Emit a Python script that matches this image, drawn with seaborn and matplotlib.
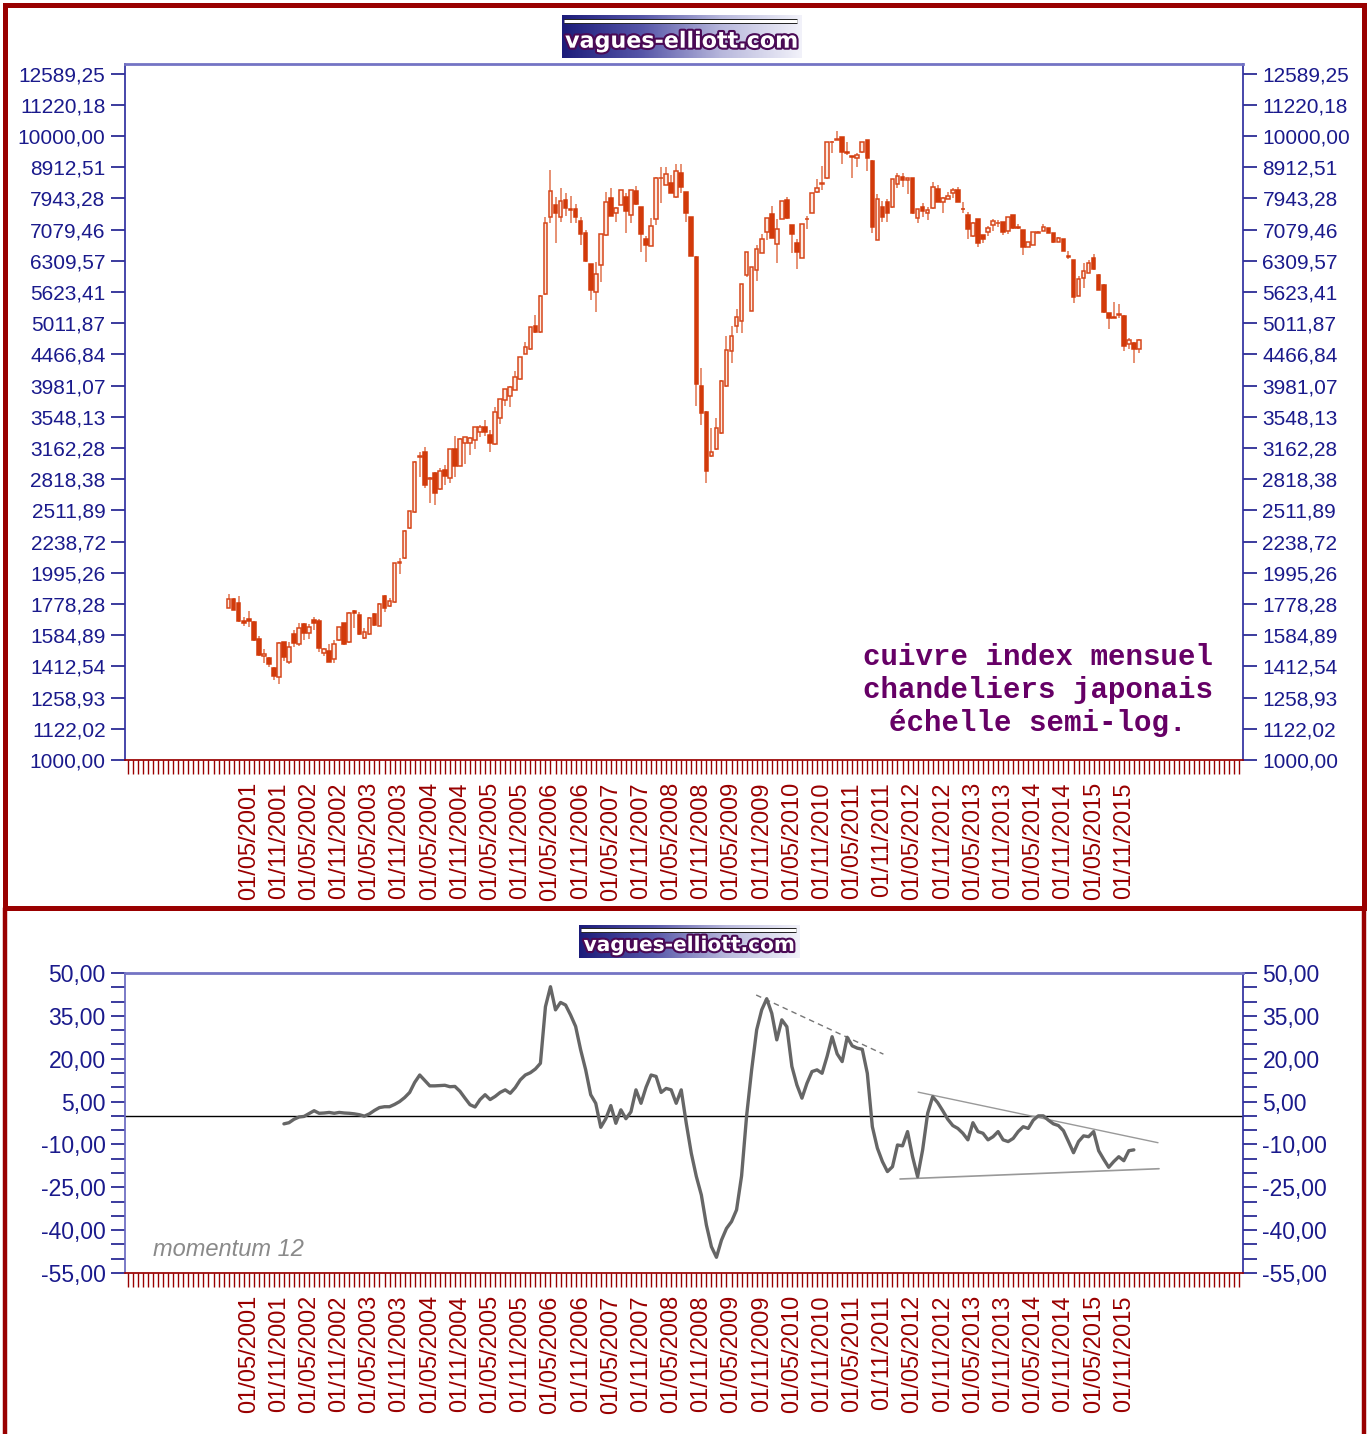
import numpy as np
import pandas as pd
import seaborn as sns
import matplotlib
matplotlib.use("Agg")
import matplotlib.pyplot as plt
import matplotlib.patheffects as pe
from matplotlib.colors import LinearSegmentedColormap
from matplotlib.lines import Line2D
from matplotlib.patches import Rectangle
from matplotlib.ticker import FixedLocator, MultipleLocator, NullLocator

# monthly copper index, one candle per month from January 2001
START_MONTH = "2001-01-01"
OPEN = [1754, 1810, 1783, 1670, 1680, 1664, 1561, 1470, 1459, 1404,
        1357, 1544, 1436, 1592, 1532, 1650, 1595, 1676, 1672, 1482,
        1496, 1450, 1557, 1657, 1546, 1735, 1709, 1571, 1592, 1714,
        1642, 1833, 1763, 1793, 2067, 2105, 2351, 2495, 3060, 3119,
        2820, 2886, 2715, 2915, 2827, 3150, 2962, 3217, 3225, 3253,
        3358, 3413, 3317, 3209, 3528, 3771, 3835, 3917, 4075, 4479,
        4552, 4960, 4850, 5576, 7408, 7752, 7408, 7896, 7640, 7628,
        7316, 6983, 6229, 5619, 6206, 6931, 7943, 7535, 7752, 7984,
        7469, 8163, 7684, 6838, 6670, 7362, 8560, 8342, 8417, 7993,
        8734, 8124, 7408, 6406, 3975, 3608, 3073, 3150, 3339, 3975,
        4524, 4966, 5059, 5987, 5246, 6099, 6502, 7009, 7491, 6705,
        7359, 7896, 7199, 6730, 6383, 7360, 7532, 8143, 8385, 8554,
        9770, 9850, 9974, 9420, 9290, 9209, 9416, 9853, 9130, 6813,
        7684, 7847, 7684, 8376, 8605, 8500, 8554, 7381, 7684, 7535,
        7656, 8224, 7830, 7925, 8112, 8193, 7640, 7469, 6905, 7359,
        6940, 7024, 7199, 7250, 7274, 7043, 7469, 7140, 7069, 6645,
        6688, 7000, 7043, 7113, 6983, 6770, 6830, 6420, 6329, 5547,
        5915, 6034, 6383, 5987, 5777, 5198, 5125, 5170, 5152, 4642,
        4664, 4552]
HIGH = [1843, 1815, 1831, 1697, 1735, 1670, 1578, 1508, 1462, 1411,
        1546, 1548, 1544, 1615, 1656, 1656, 1650, 1697, 1680, 1510,
        1533, 1555, 1635, 1660, 1725, 1740, 1725, 1625, 1692, 1718,
        1786, 1840, 1821, 2072, 2106, 2340, 2510, 3010, 3112, 3177,
        2845, 2890, 2934, 2970, 3155, 3305, 3280, 3295, 3295, 3420,
        3442, 3506, 3379, 3683, 3795, 3935, 3981, 4196, 4430, 4672,
        4945, 5166, 5560, 7424, 8821, 7993, 8263, 8094, 8014, 7781,
        7424, 7064, 6240, 6275, 6965, 8124, 8245, 7690, 8200, 8094,
        8200, 8325, 7690, 6905, 7381, 8590, 8910, 8910, 8659, 9019,
        9019, 8130, 7420, 6420, 4244, 3620, 3401, 3536, 4060, 4780,
        4966, 5278, 5800, 6525, 6170, 6689, 6968, 7390, 7718, 7359,
        7875, 7975, 7210, 6838, 7225, 7452, 8100, 8532, 8952, 9780,
        9800, 10186, 9980, 9791, 9300, 9381, 9780, 9860, 9140, 8083,
        7871, 7917, 8530, 8714, 8714, 8575, 8560, 7635, 7800, 7684,
        8452, 8350, 7970, 8143, 8245, 8292, 7847, 7560, 7270, 7365,
        6950, 7170, 7360, 7330, 7285, 7430, 7475, 7225, 7075, 6765,
        7015, 7030, 7225, 7120, 6990, 6880, 6840, 6550, 6335, 5965,
        6252, 6329, 6468, 6000, 5790, 5210, 5413, 5373, 5160, 4741,
        4675, 4730]
LOW = [1750, 1740, 1665, 1640, 1635, 1550, 1468, 1428, 1408, 1344,
       1324, 1442, 1424, 1518, 1525, 1555, 1565, 1615, 1491, 1468,
       1435, 1431, 1552, 1530, 1540, 1625, 1588, 1565, 1588, 1640,
       1638, 1729, 1758, 1788, 1986, 2100, 2345, 2490, 2844, 2725,
       2585, 2562, 2710, 2758, 2776, 2844, 2955, 2980, 3082, 3150,
       3297, 3310, 3119, 3200, 3451, 3695, 3680, 3910, 4070, 4470,
       4545, 4840, 4840, 5570, 7246, 6730, 7289, 7444, 7246, 7263,
       6688, 6290, 5459, 5228, 5828, 6925, 7440, 7289, 7745, 6983,
       7246, 7765, 6512, 6289, 6660, 7199, 7802, 8335, 8100, 7946,
       8094, 7277, 6420, 3695, 3441, 2776, 3060, 3140, 3330, 3965,
       4323, 4829, 4829, 5937, 5240, 5863, 6495, 6813, 6860, 6252,
       7350, 7375, 6487, 6115, 6375, 7095, 7525, 8112, 8193, 8545,
       9382, 9840, 9009, 9322, 8554, 8929, 9405, 8799, 6998, 6805,
       7289, 7289, 7675, 8245, 8287, 8083, 7495, 7263, 7408, 7334,
       7650, 7840, 7532, 7915, 7946, 7840, 7532, 6838, 6900, 6645,
       6730, 6922, 7050, 7155, 6940, 6957, 7105, 7100, 6445, 6640,
       6680, 6980, 7035, 6990, 6750, 6760, 6535, 6345, 5405, 5540,
       5713, 6025, 6105, 5655, 5205, 4906, 5100, 5104, 4528, 4556,
       4323, 4485]
CLOSE = [1809, 1742, 1669, 1660, 1669, 1555, 1472, 1479, 1425, 1365,
         1538, 1465, 1518, 1541, 1625, 1599, 1631, 1657, 1513, 1504,
         1438, 1535, 1631, 1535, 1719, 1719, 1592, 1605, 1688, 1646,
         1776, 1750, 1799, 2067, 2079, 2329, 2504, 3000, 3073, 2758,
         2834, 2674, 2908, 2855, 3150, 2962, 3273, 3289, 3280, 3413,
         3420, 3350, 3225, 3608, 3785, 3927, 3956, 4105, 4424, 4596,
         4937, 4846, 5547, 7246, 8163, 7518, 7867, 7674, 7620, 7424,
         6957, 6305, 5665, 6011, 6957, 7847, 7452, 7674, 8193, 7587,
         8193, 7772, 6966, 6688, 7182, 8574, 8574, 8682, 8112, 8799,
         8273, 7518, 6430, 4000, 3594, 2908, 3112, 3401, 4049, 4540,
         4786, 5122, 5786, 6512, 6160, 6591, 6838, 7381, 6870, 7095,
         7867, 7381, 6957, 6526, 7219, 7375, 8094, 8245, 8400, 9769,
         9791, 9889, 9416, 9401, 9270, 9322, 9769, 9236, 7155, 7925,
         7424, 7532, 8522, 8627, 8500, 8565, 7535, 7628, 7587, 7615,
         8292, 7847, 7962, 8014, 8193, 7847, 7628, 7095, 7263, 6745,
         6830, 7129, 7316, 7263, 7024, 7424, 7113, 7129, 6645, 6755,
         7009, 7009, 7155, 6998, 6755, 6870, 6543, 6406, 5526, 5898,
         6072, 6266, 6115, 5665, 5217, 5104, 5114, 5178, 4610, 4711,
         4552, 4719]

# momentum 12, starts at month index 11 (December 2001)
MOM_START = 11
MOMENTUM = [-2.8, -2.4, -1.2, -0.4, -0.2, 0.8, 1.8, 0.9, 1.0, 1.2,
            0.9, 1.2, 1.0, 0.9, 0.7, 0.4, -0.1, 0.7, 1.9, 2.9,
            3.2, 3.2, 4.0, 5.0, 6.4, 8.2, 11.7, 14.3, 12.4, 10.5,
            10.5, 10.6, 10.7, 10.2, 10.3, 8.6, 6.2, 3.9, 3.1, 5.7,
            7.4, 5.7, 6.8, 8.2, 9.1, 7.9, 9.9, 12.6, 14.3, 15.1,
            16.4, 18.4, 38.2, 45.2, 37.1, 39.7, 38.8, 35.3, 31.3, 23.1,
            16.1, 7.4, 4.4, -4.0, -1.0, 3.6, -2.6, 2.1, -1.0, 1.4,
            9.1, 4.4, 10.0, 14.3, 13.8, 8.2, 9.6, 9.1, 4.4, 9.1,
            -2.6, -13.1, -21.2, -27.7, -38.2, -45.8, -49.5, -43.5, -39.4, -37.0,
            -32.9, -21.0, 0.0, 16.1, 30.1, 37.1, 41.0, 35.9, 26.6, 33.6,
            31.2, 17.3, 10.8, 6.2, 11.4, 15.5, 16.1, 14.9, 20.8, 27.7,
            21.7, 19.0, 27.5, 24.5, 23.7, 23.3, 14.9, -3.8, -11.3, -16.0,
            -19.5, -17.8, -10.2, -10.5, -5.5, -14.3, -21.3, -11.9, 0.9, 6.7,
            4.6, 1.8, -1.2, -3.4, -4.4, -6.1, -8.4, -2.4, -5.5, -6.1,
            -8.4, -7.3, -5.5, -8.4, -9.0, -7.9, -5.5, -3.8, -4.4, -1.5,
            0.0, 0.0, -1.5, -2.8, -3.4, -5.2, -9.0, -12.9, -9.0, -7.0,
            -7.3, -5.5, -12.2, -15.2, -18.0, -16.0, -14.3, -15.7, -12.2, -11.9]

PRICE_TICKS = [1000.00, 1122.02, 1258.93, 1412.54, 1584.89, 1778.28, 1995.26,
               2238.72, 2511.89, 2818.38, 3162.28, 3548.13, 3981.07, 4466.84,
               5011.87, 5623.41, 6309.57, 7079.46, 7943.28, 8912.51, 10000.00,
               11220.18, 12589.25]
MOM_TICKS = [-55, -40, -25, -10, 5, 20, 35, 50]

# hand drawn trend lines on the momentum panel (month index, value)
TREND_DASHED = ([104.9, 130.2], [42.3, 21.6])
TREND_UPPER = ([137.1, 184.8], [8.3, -9.4])
TREND_LOWER = ([133.5, 185.0], [-22.1, -18.5])

TITLE_LINES = ["cuivre index mensuel", "chandeliers japonais", "échelle semi-log."]

W, H = 1371, 1434
DARK_RED = "#990000"
NAVY = "#1a1a8c"
LIGHT_BLUE = "#7474c4"
DOWN = "#d23a0a"
UP_EDGE = "#d6461a"
UP_FACE = "#fdebe3"
WICK = "#e58868"

sns.set_theme(style="white")
plt.rcParams["font.family"] = ["Liberation Sans", "DejaVu Sans"]

months = pd.date_range(START_MONTH, periods=len(OPEN), freq="MS")
df = pd.DataFrame({"month": months, "open": OPEN, "high": HIGH,
                   "low": LOW, "close": CLOSE})
df["idx"] = np.arange(len(df))
df["up"] = df["close"] >= df["open"]

mom = pd.DataFrame({"idx": np.arange(MOM_START, MOM_START + len(MOMENTUM)),
                    "value": MOMENTUM})

label_idx = np.arange(4, len(df), 6)
date_labels = [months[i].strftime("%d/%m/%Y") for i in label_idx]

fig = plt.figure(figsize=(W / 100, H / 100), dpi=100)
fig.patch.set_facecolor("white")

ax1 = fig.add_axes([125 / W, 1 - 760 / H, 1118 / W, 696 / H])
ax2 = fig.add_axes([125 / W, 1 - 1273 / H, 1118 / W, 300 / H])


def style_axis(ax, yticks, ylabels, fsize, minor_y=None):
    ax.set_xlim(-20.6, 201.7)
    ax.xaxis.set_major_locator(FixedLocator(label_idx))
    ax.set_xticklabels(date_labels, rotation=90, fontsize=17, color=DARK_RED)
    ax.xaxis.set_minor_locator(MultipleLocator(1))
    ax.tick_params(axis="x", which="both", direction="out", length=10,
                   width=1, color=DARK_RED, pad=6, bottom=True, top=False)
    ax.yaxis.set_major_locator(FixedLocator(yticks))
    ax.set_yticklabels(ylabels)
    if minor_y is not None:
        ax.yaxis.set_minor_locator(minor_y)
    else:
        ax.yaxis.set_minor_locator(NullLocator())
    ax.tick_params(axis="y", which="both", direction="out", length=10,
                   width=1.2, color=NAVY, left=True, right=True,
                   labelleft=True, labelright=True, labelsize=fsize,
                   labelcolor=NAVY, pad=4)
    ax.spines["top"].set_color(LIGHT_BLUE)
    ax.spines["top"].set_linewidth(2)
    ax.spines["left"].set_color("#3030a0")
    ax.spines["right"].set_color("#3030a0")
    ax.spines["bottom"].set_color(DARK_RED)
    for s in ax.spines.values():
        s.set_visible(True)
    ax.grid(False)
    ax.set_xlabel("")
    ax.set_ylabel("")


# candlesticks on a log scale
ax1.set_yscale("log")
ax1.vlines(df["idx"], df["low"], df["high"], color=WICK, lw=1.3, zorder=2)
up = df[df["up"]]
dn = df[~df["up"]]
ax1.bar(up["idx"], up["close"] - up["open"], bottom=up["open"], width=0.72,
        facecolor=UP_FACE, edgecolor=UP_EDGE, linewidth=1.1, zorder=3)
ax1.bar(dn["idx"], dn["open"] - dn["close"], bottom=dn["close"], width=0.72,
        facecolor=DOWN, edgecolor=DOWN, linewidth=1.1, zorder=3)
ax1.set_ylim(1000, 10 ** (3 + 696 / 624))
style_axis(ax1, PRICE_TICKS,
           [f"{v:.2f}".replace(".", ",") for v in PRICE_TICKS], 15)

for i, line in enumerate(TITLE_LINES):
    ax1.text(0.8166, (760 - 657 - 33 * i) / 696, line, transform=ax1.transAxes,
             ha="center", va="center", fontsize=21, fontweight="bold",
             family=["Liberation Mono", "DejaVu Sans Mono"], color="#660066")

# momentum panel
ax2.axhline(0, color="black", lw=1, zorder=1)
sns.lineplot(data=mom, x="idx", y="value", ax=ax2, color="#666666",
             lw=2.4, zorder=3)
ax2.plot(*TREND_DASHED, color="#777777", lw=1, ls=(0, (4, 3)), zorder=2)
ax2.plot(*TREND_UPPER, color="#999999", lw=1, zorder=2)
ax2.plot(*TREND_LOWER, color="#999999", lw=1.2, zorder=2)
ax2.set_ylim(-55, 50)
style_axis(ax2, MOM_TICKS, [f"{v:.2f}".replace(".", ",") for v in MOM_TICKS],
           16.5, minor_y=MultipleLocator(5))
ax2.spines["left"].set_color("#6a6ac0")
ax2.text(28 / 1118, 23 / 300, "momentum 12", transform=ax2.transAxes,
         ha="left", va="center", fontsize=17, style="italic", color="#8a8a8a")


def draw_logo(left, top, width, height, fsize):
    lax = fig.add_axes([left / W, 1 - (top + height) / H, width / W, height / H])
    cmap = LinearSegmentedColormap.from_list(
        "logo", ["#1c1c7a", "#5656a8", "#b8b8dc", "#f2f2fa"])
    lax.imshow(np.linspace(0, 1, 256)[None, :], aspect="auto", cmap=cmap,
               extent=(0, 1, 0, 1))
    lax.plot([0.01, 0.98], [0.86, 0.86], color="white", lw=2.2,
             solid_capstyle="butt",
             path_effects=[pe.withStroke(linewidth=3.6, foreground="#222222")])
    lax.text(0.5, 0.38, "vagues-elliott.com", color="white", fontsize=fsize,
             fontweight="bold", family="DejaVu Sans", ha="center", va="center",
             path_effects=[pe.withStroke(linewidth=3, foreground="#4a0a55")])
    lax.set_xlim(0, 1)
    lax.set_ylim(0, 1)
    lax.axis("off")


draw_logo(562, 15, 240, 43, 16)
draw_logo(579, 925, 221, 33, 14.5)

# outer dark red frames
fig.add_artist(Rectangle((4.7 / W, 1 - 908 / H), (1363.7 - 4.7) / W,
                         (908 - 5) / H, transform=fig.transFigure, fill=False,
                         ec=DARK_RED, lw=3.6))
for xpix in (4.7, 1363.7):
    fig.add_artist(Line2D([xpix / W, xpix / W], [1 - 908 / H, 0],
                          transform=fig.transFigure, color=DARK_RED, lw=3.2))

fig.savefig("out.png", dpi=100)
